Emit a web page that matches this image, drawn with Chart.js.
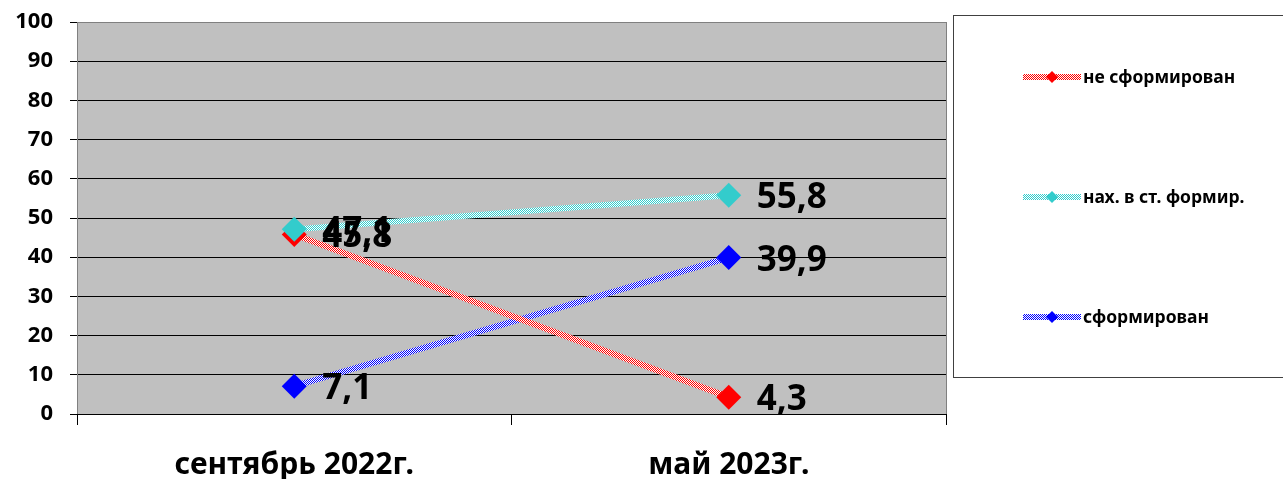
<!DOCTYPE html>
<html>
<head>
<meta charset="utf-8">
<script src="https://cdn.jsdelivr.net/npm/chart.js@4.4.0/dist/chart.umd.min.js"></script>
<style>
  html, body { margin: 0; padding: 0; background: #fff; }
  #wrap { width: 1283px; height: 479px; position: relative; }
</style>
</head>
<body>
<div id="wrap"><canvas id="chart" width="1283" height="479"></canvas></div>
<script>
// chart data
const periods = ['сентябрь 2022г.', 'май 2023г.'];
const seriesNames = ['не сформирован', 'нах. в ст. формир.', 'сформирован'];
const notFormed = [45.8, 4.3];
const partlyFormed = [47.1, 55.8];
const formed = [7.1, 39.9];
const seriesColors = ['#FF0000', '#33CCCC', '#0000FF'];

// checkered fill, like the hatched office lines
function checker(color) {
    const c = document.createElement('canvas');
    c.width = 2; c.height = 2;
    const g = c.getContext('2d');
    g.fillStyle = '#ffffff';
    g.fillRect(0, 0, 2, 2);
    g.fillStyle = color;
    g.fillRect(0, 0, 1, 1);
    g.fillRect(1, 1, 1, 1);
    return g.createPattern(c, 'repeat');
}

const plotBackground = {
    id: 'plotBackground',
    beforeDraw(chart) {
        const { ctx, chartArea: a } = chart;
        ctx.save();
        ctx.fillStyle = '#C0C0C0';
        ctx.fillRect(a.left, a.top, a.right - a.left, a.bottom - a.top);
        ctx.strokeStyle = '#808080';
        ctx.lineWidth = 1;
        ctx.strokeRect(a.left + 0.5, a.top + 0.5, a.right - a.left, a.bottom - a.top);
        ctx.restore();
    }
};

const valueLabels = {
    id: 'valueLabels',
    afterDatasetsDraw(chart) {
        const ctx = chart.ctx;
        ctx.save();
        ctx.font = 'bold 35px "Noto Sans", sans-serif';
        ctx.fillStyle = '#000';
        ctx.textBaseline = 'middle';
        ctx.textAlign = 'left';
        chart.data.datasets.forEach((ds, i) => {
            chart.getDatasetMeta(i).data.forEach((pt, j) => {
                ctx.fillText(String(ds.data[j]).replace('.', ','), pt.x + 28, pt.y + 3);
            });
        });
        ctx.restore();
    }
};

const boxLegend = {
    id: 'boxLegend',
    afterDraw(chart) {
        const ctx = chart.ctx;
        ctx.save();
        ctx.strokeStyle = '#404040';
        ctx.lineWidth = 1;
        ctx.strokeRect(953.5, 15.5, 340, 362);
        ctx.font = 'bold 17.5px "Noto Sans", sans-serif';
        ctx.textBaseline = 'middle';
        chart.data.datasets.forEach((ds, i) => {
            const y = 77 + i * 120;
            ctx.fillStyle = ds.borderColor;
            ctx.fillRect(1023, y - 3, 58, 6);
            ctx.fillStyle = ds.pointBackgroundColor;
            ctx.beginPath();
            ctx.moveTo(1052, y - 6); ctx.lineTo(1058, y); ctx.lineTo(1052, y + 6); ctx.lineTo(1046, y);
            ctx.closePath();
            ctx.fill();
            ctx.fillStyle = '#000';
            ctx.fillText(ds.label, 1083, y + 1);
        });
        ctx.restore();
    }
};

const values = [notFormed, partlyFormed, formed];
const orders = [2, 1, 3];

new Chart(document.getElementById('chart').getContext('2d'), {
    type: 'line',
    data: {
        labels: periods,
        datasets: seriesNames.map((name, i) => ({
            label: name,
            data: values[i],
            borderColor: checker(seriesColors[i]),
            borderWidth: 6,
            pointStyle: 'rectRot',
            pointRadius: 12.5,
            pointBackgroundColor: seriesColors[i],
            pointBorderWidth: 0,
            order: orders[i],
            tension: 0
        }))
    },
    options: {
        responsive: false,
        animation: false,
        layout: { padding: { top: 22, right: 337, left: 0, bottom: 0 } },
        plugins: { legend: { display: false }, tooltip: { enabled: false } },
        scales: {
            y: {
                min: 0, max: 100,
                afterFit: s => { s.width = 77; s.paddingTop = 0; s.paddingBottom = 0; },
                ticks: {
                    stepSize: 10,
                    color: '#000',
                    padding: 17,
                    font: { family: '"Noto Sans", sans-serif', size: 22, weight: 'bold' }
                },
                grid: {
                    color: c => c.tick.value === 100 ? '#808080' : '#000',
                    tickColor: '#000',
                    tickLength: 7
                },
                border: { color: '#808080' }
            },
            x: {
                offset: true,
                afterFit: s => { s.height = 65; s.paddingLeft = 0; s.paddingRight = 0; },
                ticks: {
                    color: '#000',
                    padding: 22,
                    font: { family: '"Noto Sans", sans-serif', size: 30, weight: 'bold' }
                },
                grid: {
                    offset: true,
                    drawOnChartArea: false,
                    tickColor: '#000',
                    tickLength: 11
                },
                border: { color: '#000' }
            }
        }
    },
    plugins: [plotBackground, valueLabels, boxLegend]
});
</script>
</body>
</html>
